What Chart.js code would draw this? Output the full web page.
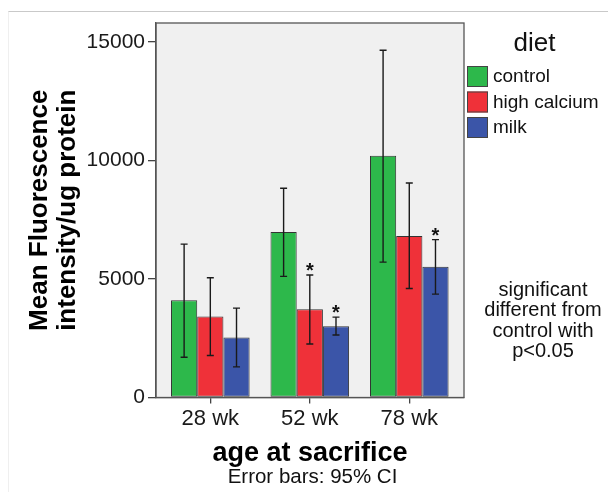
<!DOCTYPE html>
<html>
<head>
<meta charset="utf-8">
<title>Mean Fluorescence by age at sacrifice</title>
<script src="https://cdn.jsdelivr.net/npm/chart.js@4.4.1/dist/chart.umd.min.js"></script>
<style>
    html, body { margin: 0; padding: 0; background: #fff; }
    #wrap { width: 608px; height: 492px; position: relative; }
</style>
</head>
<body>
<div id="wrap"><canvas id="dietChart"></canvas></div>
<script>
// Chart data
const categories = ['28 wk', '52 wk', '78 wk'];
const seriesNames = ['control', 'high calcium', 'milk'];
const seriesColors = ['#2db84b', '#ef3139', '#3b55a8'];

const controlMean = [4100, 6980, 10200];
const calciumMean = [3420, 3720, 6810];
const milkMean = [2530, 3010, 5520];

// 95% CI bounds
const controlLow = [1700, 5110, 5710];
const controlHigh = [6470, 8830, 14650];
const calciumLow = [1770, 2260, 4600];
const calciumHigh = [5050, 5170, 9050];
const milkLow = [1290, 2640, 4360];
const milkHigh = [3770, 3390, 6660];

// significance marks (vs control, p<0.05)
const calciumSig = [false, true, false];
const milkSig = [false, true, true];

const yTicks = [0, 5000, 10000, 15000];
const legendTitle = 'diet';
const noteLines = ['significant', 'different from', 'control with', 'p<0.05'];
const footNote = 'Error bars: 95% CI';

const FONT = "'Liberation Sans', Arial, sans-serif";

const means = [controlMean, calciumMean, milkMean];
const lows = [controlLow, calciumLow, milkLow];
const highs = [controlHigh, calciumHigh, milkHigh];
const sigs = [null, calciumSig, milkSig];

// Draws plot background, frame, error bars, legend and notes
const extrasPlugin = {
    id: 'extras',
    beforeDraw(chart) {
        const { ctx, chartArea: a, width, height } = chart;
        ctx.save();
        // page edge lines from the screenshot
        ctx.strokeStyle = '#c9c9c9';
        ctx.lineWidth = 1;
        ctx.beginPath();
        ctx.moveTo(8, 11.5);
        ctx.lineTo(width, 11.5);
        ctx.stroke();
        ctx.strokeStyle = '#efefef';
        ctx.beginPath();
        ctx.moveTo(8.5, 11.5);
        ctx.lineTo(8.5, height);
        ctx.stroke();
        // plot background
        ctx.fillStyle = '#f0f0f0';
        ctx.fillRect(a.left, a.top, a.right - a.left, a.bottom - a.top);
        ctx.restore();
    },
    afterDatasetsDraw(chart) {
        const { ctx, chartArea: a } = chart;
        const yScale = chart.scales.y;
        const xScale = chart.scales.x;
        ctx.save();

        // frame
        ctx.strokeStyle = '#555';
        ctx.lineWidth = 1.3;
        ctx.strokeRect(a.left, a.top, a.right - a.left, a.bottom - a.top);

        // error bars
        ctx.strokeStyle = '#1a1a1a';
        ctx.lineWidth = 1.4;
        means.forEach((_, s) => {
            const meta = chart.getDatasetMeta(s);
            meta.data.forEach((bar, i) => {
                const x = bar.x;
                const yHi = yScale.getPixelForValue(highs[s][i]);
                const yLo = yScale.getPixelForValue(lows[s][i]);
                ctx.beginPath();
                ctx.moveTo(x, yHi);
                ctx.lineTo(x, yLo);
                ctx.moveTo(x - 3.5, yHi);
                ctx.lineTo(x + 3.5, yHi);
                ctx.moveTo(x - 3.5, yLo);
                ctx.lineTo(x + 3.5, yLo);
                ctx.stroke();

                if (sigs[s] && sigs[s][i]) {
                    ctx.fillStyle = '#111';
                    ctx.font = 'bold 20px ' + FONT;
                    ctx.textAlign = 'center';
                    ctx.textBaseline = 'alphabetic';
                    ctx.fillText('*', x, yHi + 2);
                }
            });
        });

        // legend
        ctx.fillStyle = '#111';
        ctx.textAlign = 'center';
        ctx.textBaseline = 'middle';
        ctx.font = '26px ' + FONT;
        ctx.fillText(legendTitle, 534.5, 44);

        ctx.font = '19px ' + FONT;
        ctx.textAlign = 'left';
        seriesNames.forEach((name, s) => {
            const top = 66 + s * 25.5;
            ctx.fillStyle = seriesColors[s];
            ctx.fillRect(467, top, 21, 21);
            ctx.strokeStyle = '#444';
            ctx.lineWidth = 1;
            ctx.strokeRect(467.5, top + 0.5, 20, 20);
            ctx.fillStyle = '#111';
            ctx.fillText(name, 493, top + 11);
        });

        // significance note
        ctx.textAlign = 'center';
        ctx.font = '20px ' + FONT;
        noteLines.forEach((line, k) => {
            ctx.fillText(line, 543, 290 + k * 20.6);
        });

        // error bar footnote under the axis title
        ctx.font = '20.5px ' + FONT;
        ctx.fillText(footNote, (xScale.left + xScale.right) / 2 + 2.5, 477);

        ctx.restore();
    }
};

const ctx = document.getElementById('dietChart');

const chart = new Chart(ctx, {
    type: 'bar',
    data: {
        labels: categories,
        datasets: seriesNames.map((name, s) => ({
            label: name,
            data: means[s],
            backgroundColor: seriesColors[s],
            borderColor: '#333',
            borderWidth: 1,
            borderSkipped: false,
            categoryPercentage: 0.79,
            barPercentage: 1
        }))
    },
    options: {
        responsive: true,
        maintainAspectRatio: false,
        animation: false,
        layout: {
            padding: { top: 23, right: 144, left: 0, bottom: 27 }
        },
        plugins: {
            legend: { display: false },
            tooltip: { enabled: false }
        },
        scales: {
            x: {
                offset: true,
                afterBuildTicks(scale) {
                    // a bit tighter spacing than the default half-category offset
                    scale._startValue = -0.546;
                    scale._valueRange = 3.096;
                },
                afterFit(scale) {
                    scale.height = 67.5;
                },
                border: { display: true, color: '#555', width: 1.3 },
                grid: {
                    display: true,
                    drawOnChartArea: false,
                    offset: false,
                    tickLength: 6,
                    color: '#444',
                    lineWidth: 1.3
                },
                ticks: {
                    color: '#1a1a1a',
                    padding: 2,
                    maxRotation: 0,
                    font: { family: FONT, size: 22 }
                },
                title: {
                    display: true,
                    text: 'age at sacrifice',
                    color: '#000',
                    font: { family: FONT, size: 27, weight: 'bold', lineHeight: 0.85 },
                    padding: 0
                }
            },
            y: {
                min: 0,
                max: 15800,
                afterBuildTicks(scale) {
                    scale.ticks = yTicks.map(v => ({ value: v }));
                },
                afterFit(scale) {
                    scale.width = 156;
                },
                border: { display: true, color: '#555', width: 1.3 },
                grid: {
                    display: true,
                    drawOnChartArea: false,
                    tickLength: 8,
                    color: '#444',
                    lineWidth: 1.3
                },
                ticks: {
                    color: '#1a1a1a',
                    padding: 3,
                    font: { family: FONT, size: 21 },
                    callback: value => String(value)
                },
                title: {
                    display: true,
                    text: ['Mean Fluorescence', 'intensity/ug protein'],
                    color: '#000',
                    font: { family: FONT, size: 26, weight: 'bold', lineHeight: 1.08 },
                    padding: { top: 26, bottom: 0 }
                }
            }
        }
    },
    plugins: [extrasPlugin]
});
</script>
</body>
</html>
